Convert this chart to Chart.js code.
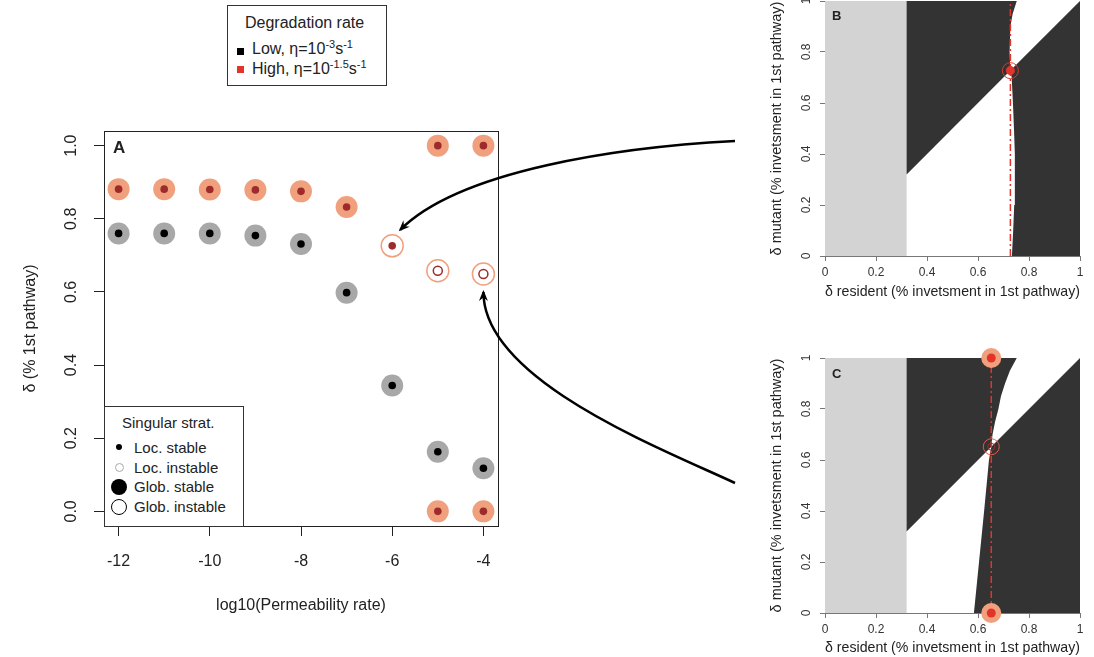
<!DOCTYPE html>
<html>
<head>
<meta charset="utf-8">
<script src="https://cdn.jsdelivr.net/npm/chart.js@4.4.1/dist/chart.umd.min.js"></script>
<style>
  body { margin: 0; background: #fff; font-family: "Liberation Sans", Arial, sans-serif; color: #222; }
  #wrap { position: relative; width: 1094px; height: 657px; overflow: hidden; }
  canvas { position: absolute; }
  .abs { position: absolute; white-space: nowrap; }
  .box { position: absolute; border: 1px solid #333; background: #fff; box-sizing: border-box; }
  .t16 { font-size: 16px; line-height: 16px; }
  .t15 { font-size: 15px; line-height: 15px; }
  sup { font-size: 11px; line-height: 0; vertical-align: 6px; }
  .sq { position: absolute; width: 7px; height: 7px; }
  .dot { position: absolute; border-radius: 50%; box-sizing: border-box; }
  .panel { position: absolute; font-weight: bold; }
</style>
</head>
<body>
<div id="wrap">
  <canvas id="chartA" width="520" height="640" style="left:0;top:0;width:520px;height:640px"></canvas>
  <canvas id="chartB" width="364" height="310" style="left:730px;top:0;width:364px;height:310px"></canvas>
  <canvas id="chartC" width="364" height="317" style="left:730px;top:340px;width:364px;height:317px"></canvas>
  <canvas id="arrows" width="1094" height="657" style="left:0;top:0;width:1094px;height:657px;pointer-events:none"></canvas>

  <!-- degradation legend -->
  <div class="box" style="left:227px;top:5px;width:160px;height:81px"></div>
  <div class="abs t16" style="left:245px;top:15px">Degradation rate</div>
  <div class="sq" style="left:237px;top:48px;background:#000"></div>
  <div class="abs t16" style="left:252px;top:41px">Low, η=10<sup>-3</sup>s<sup>-1</sup></div>
  <div class="sq" style="left:237px;top:66px;background:#e3342a"></div>
  <div class="abs t16" style="left:252px;top:61px">High, η=10<sup>-1.5</sup>s<sup>-1</sup></div>

  <!-- singular strategy legend -->
  <div class="box" style="left:104px;top:406px;width:140px;height:121px"></div>
  <div class="abs t15" style="left:122px;top:415px">Singular strat.</div>
  <div class="dot" style="left:116px;top:444px;width:6px;height:6px;background:#000"></div>
  <div class="abs t15" style="left:134px;top:440px">Loc. stable</div>
  <div class="dot" style="left:115px;top:463px;width:9px;height:9px;border:1px solid #aaa"></div>
  <div class="abs t15" style="left:134px;top:460px">Loc. instable</div>
  <div class="dot" style="left:111px;top:479px;width:16px;height:16px;background:#000"></div>
  <div class="abs t15" style="left:134px;top:479px">Glob. stable</div>
  <div class="dot" style="left:111px;top:499px;width:16px;height:16px;border:1.5px solid #000"></div>
  <div class="abs t15" style="left:134px;top:499px">Glob. instable</div>

  <div class="panel" style="left:113px;top:138px;font-size:17px">A</div>
  <div class="panel" style="left:832px;top:8px;font-size:13px">B</div>
  <div class="panel" style="left:832px;top:366px;font-size:13px">C</div>
</div>

<script>
// panel A: singular strategies vs permeability
const permeability = [-12, -11, -10, -9, -8, -7, -6, -5, -4];
const lowDelta = [0.760, 0.760, 0.760, 0.754, 0.731, 0.598, 0.344, 0.163, 0.118];
const highDelta = [0.881, 0.881, 0.880, 0.879, 0.875, 0.832, 0.726, 0.658, 0.649];
const highGlobStable = [true, true, true, true, true, true, false, false, false];
const highLocStable = [true, true, true, true, true, true, true, false, false];
const highEdgeX = [-5, -5, -4, -4];
const highEdgeY = [1.0, 0.0, 1.0, 0.0];
const xTicksA = [-12, -10, -8, -6, -4];
const yTicksA = [0, 0.2, 0.4, 0.6, 0.8, 1.0];

// panels B and C: pairwise invasibility plots
const pipTicks = [0, 0.2, 0.4, 0.6, 0.8, 1];
const viableMin = 0.32;
const bBoundaryY = [0, 0.1, 0.2, 0.3, 0.4, 0.5, 0.6, 0.7, 0.727, 0.8, 0.9, 0.95, 1.0];
const bBoundaryX = [0.733, 0.738, 0.742, 0.744, 0.745, 0.741, 0.737, 0.732, 0.727, 0.724, 0.727, 0.736, 0.752];
const bSingular = 0.727;
const cBoundaryY = [0, 0.2, 0.4, 0.6, 0.652, 0.7, 0.75, 0.8, 0.85, 0.9, 0.95, 1.0];
const cBoundaryX = [0.584, 0.604, 0.624, 0.643, 0.652, 0.657, 0.667, 0.680, 0.690, 0.706, 0.725, 0.752];
const cSingular = 0.652;
const cEdgeY = [1.0, 0.0];

const salmon = '#f0a07c';
const darkRed = '#9e2b2b';
const gray = '#a8a8a8';
const red = '#e3342a';

Chart.defaults.font.family = "'Liberation Sans', Arial, sans-serif";

// R-style vertical y tick labels (and optional box)
function rAxisPlugin(values, labels, offset, font, color, box) {
    return {
        id: 'rAxis',
        afterDraw(chart) {
            const ctx = chart.ctx;
            const area = chart.chartArea;
            const y = chart.scales.y;
            ctx.save();
            ctx.font = font;
            ctx.fillStyle = color;
            ctx.textAlign = 'center';
            ctx.textBaseline = 'middle';
            values.forEach((v, i) => {
                ctx.save();
                ctx.translate(area.left - offset, y.getPixelForValue(v));
                ctx.rotate(-Math.PI / 2);
                ctx.fillText(labels[i], 0, 0);
                ctx.restore();
            });
            if (box) {
                ctx.strokeStyle = '#222';
                ctx.lineWidth = 1;
                ctx.strokeRect(Math.round(area.left) + 0.5, Math.round(area.top) + 0.5,
                    Math.round(area.right - area.left), Math.round(area.bottom - area.top));
            }
            ctx.restore();
        }
    };
}

const pts = (xs, ys) => xs.map((x, i) => ({x, y: ys[i]}));
const pick = (arr, mask, want) => arr.filter((_, i) => mask[i] === want);

// ---------- panel A ----------
const highStableInner = pts(pick(permeability, highLocStable, true), pick(highDelta, highLocStable, true)).concat(pts(highEdgeX, highEdgeY));
const highInstableInner = pts(pick(permeability, highLocStable, false), pick(highDelta, highLocStable, false));
const highStableOuter = pts(pick(permeability, highGlobStable, true), pick(highDelta, highGlobStable, true)).concat(pts(highEdgeX, highEdgeY));
const highInstableOuter = pts(pick(permeability, highGlobStable, false), pick(highDelta, highGlobStable, false));

const chartA = new Chart(document.getElementById('chartA'), {
    type: 'scatter',
    data: {
        datasets: [
            { data: pts(permeability, lowDelta), pointRadius: 3.8, backgroundColor: '#000', borderWidth: 0, order: 1 },
            { data: highStableInner, pointRadius: 3.8, backgroundColor: darkRed, borderWidth: 0, order: 1 },
            { data: highInstableInner, pointRadius: 4.5, backgroundColor: 'rgba(0,0,0,0)', borderColor: darkRed, borderWidth: 1.5, order: 1 },
            { data: pts(permeability, lowDelta), pointRadius: 11, backgroundColor: gray, borderWidth: 0, order: 2 },
            { data: highStableOuter, pointRadius: 11, backgroundColor: salmon, borderWidth: 0, order: 2 },
            { data: highInstableOuter, pointRadius: 11, backgroundColor: 'rgba(0,0,0,0)', borderColor: salmon, borderWidth: 1.5, order: 2 }
        ]
    },
    options: {
        responsive: false,
        animation: false,
        events: [],
        layout: { autoPadding: false, padding: { left: 0, top: 131, right: 22, bottom: 0 } },
        plugins: { legend: { display: false }, tooltip: { enabled: false } },
        scales: {
            x: {
                type: 'linear', min: -12.32, max: -3.68,
                afterBuildTicks: s => { s.ticks = xTicksA.map(v => ({ value: v })); },
                afterFit: s => { s.height = 114; },
                border: { display: true, color: '#222' },
                grid: { drawOnChartArea: false, drawTicks: true, tickLength: 10, color: '#222' },
                ticks: { color: '#222', font: { size: 16 }, padding: 16, maxRotation: 0, autoSkip: false, callback: v => String(v) },
                title: { display: true, text: 'log10(Permeability rate)', color: '#222', font: { size: 16 }, padding: { top: 0, bottom: 25 } }
            },
            y: {
                type: 'linear', min: -0.04, max: 1.04,
                afterBuildTicks: s => { s.ticks = yTicksA.map(v => ({ value: v })); },
                afterFit: s => { s.width = 104; },
                border: { display: true, color: '#222' },
                grid: { drawOnChartArea: false, drawTicks: true, tickLength: 10, color: '#222' },
                ticks: { display: false },
                title: { display: true, text: 'δ (% 1st pathway)', color: '#222', font: { size: 16 }, padding: { top: 21, bottom: 0 } }
            }
        }
    },
    plugins: [rAxisPlugin(yTicksA, yTicksA.map(v => v.toFixed(1)), 32, "16px 'Liberation Sans', Arial, sans-serif", '#222', true)]
});

// ---------- panels B and C ----------
function pipPolygons(bx, by, singular) {
    const upper = [], lower = [];
    bx.forEach((x, i) => {
        if (by[i] >= singular) upper.push({ x, y: by[i] });
        if (by[i] <= singular) lower.push({ x, y: by[i] });
    });
    const upperLeft = [{ x: viableMin, y: viableMin }, { x: viableMin, y: 1 }].concat(upper.slice().reverse());
    const lowerRight = lower.concat([{ x: 1, y: 1 }, { x: 1, y: 0 }]);
    return { upperLeft, lowerRight };
}

function pipChart(id, bx, by, singular, markers, topPad, xAxisHeight, titleBottom) {
    const poly = pipPolygons(bx, by, singular);
    const shape = (data, color) => ({
        data, fill: 'shape', backgroundColor: color, borderColor: 'rgba(0,0,0,0)',
        borderWidth: 0, pointRadius: 0, tension: 0, order: 10
    });
    const datasets = markers.concat([
        { data: [{ x: singular, y: 0 }, { x: singular, y: 1 }], borderColor: red, borderWidth: 1.5,
          borderDash: [7, 3, 2, 3], pointRadius: 0, fill: false, order: 5 },
        shape(poly.upperLeft, '#333333'),
        shape(poly.lowerRight, '#333333'),
        shape([{ x: 0, y: 0 }, { x: 0, y: 1 }, { x: viableMin, y: 1 }, { x: viableMin, y: 0 }], '#d3d3d3')
    ]);
    return new Chart(document.getElementById(id), {
        type: 'line',
        data: { datasets },
        options: {
            responsive: false,
            animation: false,
            events: [],
            layout: { autoPadding: false, padding: { left: 0, top: topPad, right: 14, bottom: 0 } },
            plugins: { legend: { display: false }, tooltip: { enabled: false } },
            scales: {
                x: {
                    type: 'linear', min: 0, max: 1,
                    afterBuildTicks: s => { s.ticks = pipTicks.map(v => ({ value: v })); },
                    afterFit: s => { s.height = xAxisHeight; },
                    border: { display: true, color: '#777' },
                    grid: { drawOnChartArea: false, drawTicks: true, tickLength: 5, color: '#777' },
                    ticks: { color: '#333', font: { size: 12 }, padding: 4, maxRotation: 0, autoSkip: false, callback: v => String(v) },
                    title: { display: true, text: 'δ resident (% invetsment in 1st pathway)', color: '#222', font: { size: 14.5 }, padding: { top: 0, bottom: titleBottom } }
                },
                y: {
                    type: 'linear', min: 0, max: 1,
                    afterBuildTicks: s => { s.ticks = pipTicks.map(v => ({ value: v })); },
                    afterFit: s => { s.width = 95; },
                    border: { display: true, color: '#777' },
                    grid: { drawOnChartArea: false, drawTicks: true, tickLength: 5, color: '#777' },
                    ticks: { display: false },
                    title: { display: true, text: 'δ mutant (% invetsment in 1st pathway)', color: '#222', font: { size: 14.5 }, padding: { top: 38, bottom: 0 } }
                }
            }
        },
        plugins: [rAxisPlugin(pipTicks, pipTicks.map(v => String(v)), 18, "12px 'Liberation Sans', Arial, sans-serif", '#333', false)]
    });
}

const markersB = [
    { data: [{ x: bSingular, y: bSingular }], pointRadius: 4.5, backgroundColor: red, borderWidth: 0, showLine: false, clip: false, order: 1 },
    { data: [{ x: bSingular, y: bSingular }], pointRadius: 8, backgroundColor: 'rgba(0,0,0,0)', borderColor: red, borderWidth: 1, showLine: false, clip: false, order: 2 }
];
const markersC = [
    { data: cEdgeY.map(y => ({ x: cSingular, y })), pointRadius: 4.5, backgroundColor: red, borderWidth: 0, showLine: false, clip: false, order: 1 },
    { data: [{ x: cSingular, y: cSingular }], pointRadius: 3.5, backgroundColor: 'rgba(0,0,0,0)', borderColor: darkRed, borderWidth: 1, showLine: false, clip: false, order: 1 },
    { data: cEdgeY.map(y => ({ x: cSingular, y })), pointRadius: 10, backgroundColor: salmon, borderWidth: 0, showLine: false, clip: false, order: 2 },
    { data: [{ x: cSingular, y: cSingular }], pointRadius: 8, backgroundColor: 'rgba(0,0,0,0)', borderColor: '#d9604a', borderWidth: 1, showLine: false, clip: false, order: 2 }
];

const chartB = pipChart('chartB', bBoundaryX, bBoundaryY, bSingular, markersB, 1, 54, 9);
const chartC = pipChart('chartC', cBoundaryX, cBoundaryY, cSingular, markersC, 18, 44, 0);

// ---------- curved arrows from B and C to panel A ----------
function drawArrow(ctx, p0, p1, p2, p3) {
    ctx.beginPath();
    ctx.moveTo(p0.x, p0.y);
    ctx.bezierCurveTo(p1.x, p1.y, p2.x, p2.y, p3.x, p3.y);
    ctx.stroke();
    const dx = p3.x - p2.x, dy = p3.y - p2.y;
    const len = Math.hypot(dx, dy);
    const ux = dx / len, uy = dy / len;
    const nx = -uy, ny = ux;
    const L = 9, W = 4.5;
    ctx.beginPath();
    ctx.moveTo(p3.x + ux * 2, p3.y + uy * 2);
    ctx.lineTo(p3.x - ux * L + nx * W, p3.y - uy * L + ny * W);
    ctx.lineTo(p3.x - ux * L * 0.6, p3.y - uy * L * 0.6);
    ctx.lineTo(p3.x - ux * L - nx * W, p3.y - uy * L - ny * W);
    ctx.closePath();
    ctx.fill();
}

const actx = document.getElementById('arrows').getContext('2d');
actx.strokeStyle = '#000';
actx.fillStyle = '#000';
actx.lineWidth = 2.5;
const sx = chartA.scales.x, sy = chartA.scales.y;
const tip1 = { x: sx.getPixelForValue(-6) + 8, y: sy.getPixelForValue(highDelta[6]) - 16 };
const tip2 = { x: sx.getPixelForValue(-4), y: sy.getPixelForValue(highDelta[8]) + 18 };
drawArrow(actx, { x: 735, y: 141 }, { x: 620, y: 147 }, { x: 460, y: 170 }, tip1);
drawArrow(actx, { x: 735, y: 483 }, { x: 660, y: 448 }, { x: tip2.x, y: 380 }, tip2);
</script>
</body>
</html>
